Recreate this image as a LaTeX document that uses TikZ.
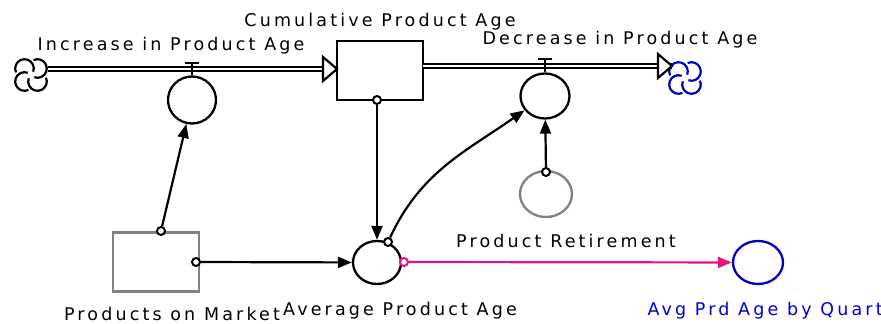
\documentclass[tikz,border=0pt]{standalone}
\usepackage{fontspec}
\newfontfamily\lblfont[LetterSpace=18]{DejaVu Sans}
\usetikzlibrary{arrows.meta,shapes.geometric}
\definecolor{stockgray}{RGB}{128,128,128}
\definecolor{linkpink}{RGB}{232,16,136}
\definecolor{cloudblue}{RGB}{0,0,205}

\tikzset{
  stock/.style={draw, line width=2.3pt, minimum width=86pt, minimum height=59pt, inner sep=0pt},
  aux/.style={draw, ellipse, line width=2.3pt, minimum width=48pt, minimum height=45pt, inner sep=0pt},
  pipe/.style={double, line width=2.4pt, double distance=1.3pt},
  flowhead/.style={draw, line width=2.2pt, fill=white, line join=miter},
  conn/.style={line width=2.2pt, -{Triangle[length=14pt,width=11pt]}},
  dot/.style={circle, draw, line width=2pt, fill=white, minimum size=8pt, inner sep=0pt},
  lbl/.style={font=\lblfont\fontsize{17.5}{20}\selectfont, anchor=base},
  cloud/.pic={
    \foreach \a in {45,135,225,315}
      \draw[line width=2.2pt] (\a:9.2) ++(\a+205:9.3) arc[start angle=\a+205, end angle=\a+430, radius=9.3];
  }
}

\begin{document}
\begin{tikzpicture}[x=1pt,y=1pt]
  \useasboundingbox (0,0) rectangle (881,324);

  % Stocks
  \node[stock] (cpa) at (380,253.5) {};
  \node[stock, draw=stockgray] (pom) at (156,62) {};

  % Flows
  \pic at (31,249) {cloud};
  \pic[cloudblue] at (685,246) {cloud};
  \coordinate (pL0) at (48,255);
  \coordinate (pL1) at (337,255);
  \coordinate (pR0) at (423,258);
  \coordinate (pR1) at (672,258);
  \draw[pipe] (pL0) -- (pL1);
  \draw[pipe] (pR0) -- (pR1);
  \draw[flowhead] (pL1) -- ++(-14,12) -- ++(0,-24) -- cycle;
  \draw[flowhead] (pR1) -- ++(-14,12) -- ++(0,-24) -- cycle;

  % Valves and converters
  \node[aux, minimum height=47pt] (inc) at (192,224) {};
  \node[aux, minimum width=49pt] (dec) at (545,228) {};
  \node[aux, minimum height=43pt] (apa) at (377,61.5) {};
  \node[aux, draw=stockgray, minimum width=52pt, minimum height=46pt] (prt) at (546,130) {};
  \node[aux, draw=cloudblue, minimum width=50pt, minimum height=43pt] (avq) at (758,61.5) {};
  \draw[line width=2.2pt] (inc.north) -- ++(0,12) ++(-7,0) -- ++(14,0);
  \draw[line width=2.2pt] (dec.north) -- ++(0,13) ++(-7,0) -- ++(14,0);

  % Links
  \node[dot] (d1) at (161,93) {};
  \node[dot] (d2) at (196,62) {};
  \node[dot] (d3) at (377,224) {};
  \node[dot] (d4) at (388,82) {};
  \node[dot] (d5) at (546,152) {};
  \node[dot, draw=linkpink] (d6) at (404,62) {};
  \draw[conn] (d1) -- (inc);
  \draw[conn] (d2) -- (apa);
  \draw[conn] (d3) -- (apa);
  \draw[conn] (d4) to[out=65, in=215] (dec);
  \draw[conn] (d5) -- (dec);
  \draw[conn, linkpink] (d6) -- (avq);

  % Labels
  \node[lbl] (lcpa) at (380,297) {Cumulative Product Age};
  \node[lbl] (linc) at (171,273) {Increase in Product Age};
  \node[lbl] (ldec) at (620,279) {Decrease in Product Age};
  \node[lbl] (lpom) at (172,3) {Products on Market};
  \node[lbl] (lapa) at (400,9) {Average Product Age};
  \node[lbl] (lprt) at (566,76) {Product Retirement};
  \node[lbl, anchor=base west, text=cloudblue] (lavq) at (644,9) {Avg Prd Age by Quarter};
\end{tikzpicture}
\end{document}
